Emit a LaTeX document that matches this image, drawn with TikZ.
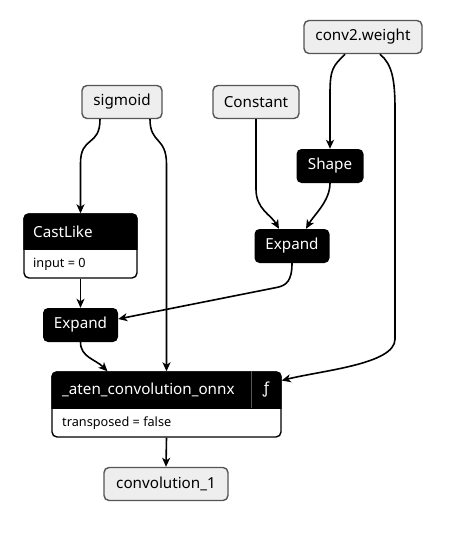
\documentclass[tikz,border=0pt]{standalone}
\usepackage{fontspec}
\setmainfont{Noto Sans}
\usetikzlibrary{arrows.meta}

\definecolor{inputfill}{HTML}{EEEEEE}
\definecolor{inputline}{HTML}{555555}

\tikzset{
  inbox/.style={draw=inputline, fill=inputfill, line width=1.4pt, rounded corners=5pt, minimum height=33pt, font=\fontsize{15.2}{18}\selectfont},
  opbox/.style={fill=black, text=white, rounded corners=5pt, minimum height=34pt, font=\fontsize{15.2}{18}\selectfont},
  attrbox/.style={draw=black, fill=white, line width=1.4pt, rounded corners=5pt},
  headtext/.style={text=white, font=\fontsize{15.2}{18}\selectfont, anchor=west, inner sep=0pt},
  attrtext/.style={font=\fontsize{12.7}{15}\selectfont, anchor=west, inner sep=0pt},
  link/.style={draw, line width=1.6pt, -{Stealth[length=9pt,width=8pt,inset=2.5pt]}}
}

\begin{document}
\begin{tikzpicture}[x=1pt,y=-1pt]
\useasboundingbox (0,0) rectangle (457,541);

% inputs and output
\node[inbox, minimum width=118pt] (weight) at (363,37) {conv2.weight};
\node[inbox, minimum width=80pt] (sigmoid) at (122,102) {sigmoid};
\node[inbox, minimum width=86pt] (const) at (256,102) {Constant};
\node[inbox, minimum width=124pt] (conv) at (166,484) {convolution\_1};

% plain ops
\node[opbox, minimum width=67pt] (shape) at (330,166) {Shape};
\node[opbox, minimum width=75pt] (expandr) at (292,246) {Expand};
\node[opbox, minimum width=75pt] (expandl) at (80.5,325) {Expand};

% CastLike with attribute
\node[attrbox, minimum width=113pt, minimum height=64pt] (castlike) at (80.5,246) {};
\coordinate (castcut) at (0,249);
\begin{scope}
  \clip (castlike.north west) rectangle (castlike.east |- castcut);
  \fill[black, rounded corners=5pt] (castlike.north west) rectangle (castlike.south east);
\end{scope}
\node[headtext] (castname) at (33,231.5) {CastLike};
\node[attrtext] (castattr) at (33,264) {input = 0};

% _aten_convolution_onnx with attribute
\node[attrbox, minimum width=229pt, minimum height=65pt] (aten) at (166.5,404.5) {};
\coordinate (atencut) at (0,408);
\coordinate (atensep) at (251,0);
\begin{scope}
  \clip (aten.north west) rectangle (aten.east |- atencut);
  \fill[black, rounded corners=5pt] (aten.north west) rectangle (aten.south east);
\end{scope}
\draw[inputline, line width=1pt] (aten.north -| atensep) -- (atencut -| atensep);
\node[headtext] (atenname) at (62,390) {\_aten\_convolution\_onnx};
\node[text=white, font=\fontsize{15.2}{18}\selectfont] (atenfn) at (266,390) {ƒ};
\node[attrtext] (atenattr) at (62,423) {transposed = false};

% connectors
\draw[link] ([xshift=-22pt]sigmoid.south) .. controls +(0,28) and +(0,-28) .. ([yshift=50pt]castlike.north) -- (castlike.north);
\draw[link] ([xshift=28pt]sigmoid.south) .. controls +(0,25) and +(0,-28) .. ([yshift=207pt]aten.north) -- (aten.north);
\draw[link] (castlike.south) -- (expandl.north);
\draw[link] (expandr.south) .. controls +(0,18) and +(8,-2) .. ++(-14,24) -- ([yshift=6pt]expandl.east);
\draw[link] (expandl.south) .. controls +(0,15) and +(-12,-12) .. ([xshift=-59pt]aten.north);
\draw[link] (const.south) -- ++(0,70) .. controls +(0,20) and +(-8,-14) .. ([xshift=-13pt]expandr.north);
\draw[link] (shape.south) .. controls +(0,18) and +(8,-14) .. ([xshift=14pt]expandr.north);
\draw[link] ([xshift=-18pt]weight.south) .. controls +(-12,12) and +(0,-25) .. ([yshift=55pt]shape.north) -- (shape.north);
\draw[link] ([xshift=17pt]weight.south) .. controls +(12,10) and +(0,-30) .. ++(15,55) -- ++(0,230) .. controls +(0,25) and +(40,-10) .. ([yshift=24pt]aten.east);
\draw[link] (aten.south) -- (conv.north);
\end{tikzpicture}
\end{document}
